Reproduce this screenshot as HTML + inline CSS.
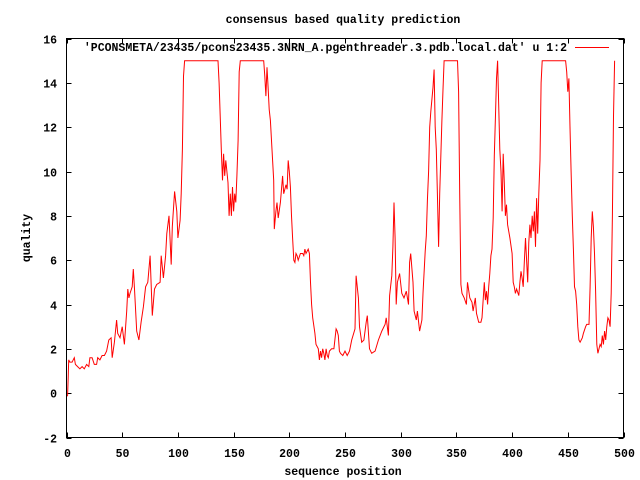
<!DOCTYPE html>
<html><head><meta charset="utf-8"><style>
html,body{margin:0;padding:0;background:#fff;}
svg{display:block;}
text{font-family:"Liberation Mono","DejaVu Sans Mono",monospace;font-size:11.5px;font-weight:bold;fill:#000;}
</style></head><body>
<svg id="chart" width="640" height="480" xmlns="http://www.w3.org/2000/svg">
<rect width="640" height="480" fill="#fff"/>
<text x="343" y="23" text-anchor="middle">consensus based quality prediction</text>
<text x="343" y="475" text-anchor="middle">sequence position</text>
<text x="0" y="0" text-anchor="middle" transform="translate(30,238) rotate(-90)">quality</text>
<g id="ticks"></g>
<g id="plot"></g>
<rect x="66.5" y="38.5" width="557" height="399" fill="none" stroke="#000" stroke-width="1"/>
<text x="567" y="51" text-anchor="end">'PCONSMETA/23435/pcons23435.3NRN_A.pgenthreader.3.pdb.local.dat' u 1:2</text>
<line x1="575" y1="47.5" x2="609" y2="47.5" stroke="#f00" stroke-width="1"/>
</svg>
<script>
const positions=[0,1,1.5,2,3,5,7,8,10,12,14,16,18,20,21,23,25,27,28,30,32,34,36,38,40,41,43,45,46,48,50,52,54,55,56,57,59,60,61,63,65,67,69,71,73,75,77,79,81,84,85,87,89,90,92,94,95,97,99,100,102,103,104,105,106,136,137,138,139,140,141,142,143,145,146,147,148,149,150,151,152,153,154,155,156,177,178,179,180,181,182,183,184,185,186,186.5,188,189,190,192,193,194,195,197,198,199,200,201,202,203,204,205,206,207,208,210,212,213,214,215,217,218,219,220,221,223,224,226,227,228,229,230,231,232,233,234,235,236,238,240,242,243,244,245,246,248,250,252,254,256,259,260,262,263,265,267,269,270,272,274,277,280,283,286,287,289,290,292,293,294,295,296,297,299,301,303,305,307,308,309,311,312,314,315,317,319,320,322,323,324,325,326,327,329,330,331,332,333,334,335,337,338,339,351,352,353,354,355,357,359,360,362,364,365,367,368,370,372,373,375,376,377,378,379,380,381,382,383,384,385,386,387,388,389,390,391,392,393,394,395,396,398,400,401,402,403,404,406,407,408,409,410,411,412,413,414,415,416,417,418,419,420,421,422,423,424,425,426,427,448,449,450,451,452,453,454,455,456,457,458,459,460,461,463,464,466,467,469,470,471,472,473,474,475,476,477,478,479,480,481,482,483,484,485,486,487,488,489,490,491,492];
const quality=[-0.15,-0.1,0.7,1.5,1.4,1.4,1.6,1.3,1.2,1.1,1.2,1.1,1.3,1.2,1.6,1.6,1.3,1.3,1.6,1.5,1.7,1.7,1.9,2.4,2.5,1.6,2.3,3.3,2.7,2.5,3.0,2.2,3.7,4.7,4.3,4.5,4.8,5.6,4.7,2.8,2.4,3.2,3.9,4.8,5.0,6.2,3.5,4.7,4.9,5.0,6.2,5.2,6.2,7.2,8.0,5.8,7.5,9.1,8.2,7.0,7.8,9.0,11,14.3,15,15,14,12.5,11,9.6,10.8,9.8,10.5,9.5,8.0,9.0,8.0,9.3,8.2,9.0,8.6,9.8,11.4,14.5,15,15,14.3,13.4,14.7,13.8,12.8,12.3,11.4,10.5,9.6,7.4,8.2,8.6,7.9,8.6,9.2,9.8,9.0,9.4,9.2,10.5,10.0,9.3,8.0,7.0,6.0,5.9,6.3,6.2,6.0,6.3,6.3,6.2,6.5,6.3,6.5,6.3,5.0,4.0,3.4,2.7,2.2,2.0,1.5,1.9,1.6,2.0,1.8,1.5,2.0,1.7,1.6,1.9,2.0,2.0,2.9,2.8,2.6,1.9,1.8,1.7,1.9,1.7,1.9,2.4,2.9,5.3,4.3,3.0,2.3,2.4,3.2,3.5,2.0,1.8,1.9,2.4,2.8,3.1,3.4,2.6,4.4,5.3,6.6,8.6,7.0,4.0,5.0,5.4,4.5,4.3,4.6,4.0,5.9,6.3,5.0,3.7,3.3,3.7,2.8,3.3,4.5,6.4,7.1,8.7,10.0,12.0,12.7,13.8,14.6,12.0,11.0,8.8,6.6,9.0,12.3,13.7,15,15,13.6,9.0,4.9,4.5,4.3,4.0,5.0,4.3,4.1,3.7,4.3,3.6,3.2,3.2,3.4,5.0,4.2,4.6,4.0,4.8,5.4,6.2,6.5,7.9,10.7,12.4,14.2,15.0,13.0,11.0,10.0,8.2,10.8,9.5,8.0,8.5,7.6,7.0,6.3,5.0,4.8,4.5,4.7,4.4,5.0,5.5,5.2,4.8,6.0,7.0,6.0,5.0,6.8,7.6,7.0,8.0,7.3,8.2,6.6,8.8,7.2,9.0,10.5,14.0,15,15,14.5,13.6,14.2,12.0,10.0,8.0,6.5,4.8,4.6,4.0,3.0,2.4,2.3,2.5,2.7,3.0,3.1,3.1,4.8,7.0,8.2,7.5,6.3,4.6,2.2,1.8,2.0,2.2,2.1,2.6,2.2,2.8,2.4,3.0,3.4,3.3,3.0,4.5,8.0,12.5,15];
const xTicks=[0,50,100,150,200,250,300,350,400,450,500];
const yTicks=[-2,0,2,4,6,8,10,12,14,16];

const L=66.5,R=623.5,T=38.5,B=437.5;
const xMin=0,xMax=500,yMin=-2,yMax=16;
function sx(v){return L+(v-xMin)/(xMax-xMin)*(R-L);}
function sy(v){return B-(v-yMin)/(yMax-yMin)*(B-T);}
const NS="http://www.w3.org/2000/svg";
const tg=document.getElementById('ticks');
function ln(x1,y1,x2,y2,name){
  const l=document.createElementNS(NS,'line');
  l.setAttribute('x1',x1);l.setAttribute('y1',y1);l.setAttribute('x2',x2);l.setAttribute('y2',y2);
  l.setAttribute('stroke','#000');
  
  
  tg.appendChild(l);
}
xTicks.forEach(v=>{
  const x=Math.round(sx(v))+0.5;
  ln(x,B,x,B-5,'x-tick');
  ln(x,T,x,T+5,'x-tick-top');
  const t=document.createElementNS(NS,'text');
  t.setAttribute('x',x);t.setAttribute('y',457);t.setAttribute('text-anchor','middle');
  t.textContent=v;
  
  
  tg.appendChild(t);
});
yTicks.forEach(v=>{
  const y=Math.round(sy(v))+0.5;
  ln(L,y,L+5,y,'y-tick');
  ln(R,y,R-5,y,'y-tick-right');
  const t=document.createElementNS(NS,'text');
  t.setAttribute('x',57);t.setAttribute('y',y+4);t.setAttribute('text-anchor','end');
  t.textContent=v;
  
  
  tg.appendChild(t);
});
const pts=positions.map((p,i)=>sx(p).toFixed(1)+','+sy(quality[i]).toFixed(1)).join(' ');
const pl=document.createElementNS(NS,'polyline');
pl.setAttribute('points',pts);
pl.setAttribute('fill','none');pl.setAttribute('stroke','#f00');pl.setAttribute('stroke-width','1');


document.getElementById('plot').appendChild(pl);
</script>
</body></html>
